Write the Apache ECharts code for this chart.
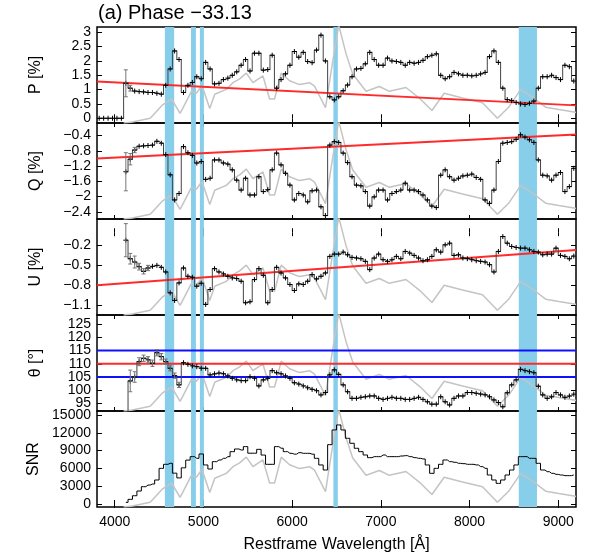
<!DOCTYPE html>
<html>
<head>
<meta charset="utf-8">
<script src="https://cdn.jsdelivr.net/npm/echarts@6/dist/echarts.min.js"></script>
<style>
  html, body { margin: 0; padding: 0; background: #fff; }
  #chart { width: 598px; height: 558px; }
</style>
</head>
<body>
<div id="chart"></div>
<script>
// bin centres (50 A bins) shared by P, Q, U, theta and SNR
const binWave = [
  4125, 4175, 4225, 4275, 4325, 4375, 4425, 4475, 4525, 4575,
  4625, 4675, 4725, 4775, 4825, 4875, 4925, 4975, 5025, 5075,
  5125, 5175, 5225, 5275, 5325, 5375, 5425, 5475, 5525, 5575,
  5625, 5675, 5725, 5775, 5825, 5875, 5925, 5975, 6025, 6075,
  6125, 6175, 6225, 6275, 6325, 6375, 6425, 6475, 6525, 6575,
  6625, 6675, 6725, 6775, 6825, 6875, 6925, 6975, 7025, 7075,
  7125, 7175, 7225, 7275, 7325, 7375, 7425, 7475, 7525, 7575,
  7625, 7675, 7725, 7775, 7825, 7875, 7925, 7975, 8025, 8075,
  8125, 8175, 8225, 8275, 8325, 8375, 8425, 8475, 8525, 8575,
  8625, 8675, 8725, 8775, 8825, 8875, 8925, 8975, 9025, 9075,
  9125, 9175
]

// empty bins below 4100 A, plotted as P = 0
const pZeroWave = [3825, 3875, 3925, 3975, 4025, 4075]
const pZeroValues = [0, 0, 0, 0, 0, 0]

const pValues = [
  1.22, 1.05, 0.95, 0.93, 0.92, 0.90, 0.90, 0.87, 0.84, 1.15,
  1.72, 2.35, 2.05, 0.90, 1.15, 1.25, 1.45, 1.38, 1.95, 1.72,
  1.20, 1.22, 1.35, 1.40, 1.50, 1.62, 1.85, 2.05, 1.65, 2.27,
  2.27, 1.68, 1.70, 2.20, 1.05, 1.35, 1.55, 1.85, 2.33, 2.13,
  2.30, 1.98, 1.94, 2.38, 2.90, 2.00, 0.75, 0.64, 0.75, 0.96,
  1.16, 1.45, 1.72, 1.74, 1.90, 2.30, 2.05, 1.85, 1.85, 2.10,
  2.00, 1.98, 1.95, 1.85, 1.95, 1.92, 1.95, 2.02, 2.15, 2.20,
  2.25, 1.50, 1.38, 1.45, 1.60, 1.55, 1.50, 1.50, 1.48, 1.50,
  1.55, 1.60, 2.15, 2.35, 1.95, 1.05, 0.65, 0.62, 0.55, 0.50,
  0.48, 0.52, 0.60, 1.05, 1.45, 1.45, 1.50, 1.42, 1.35, 1.85,
  1.80, 1.30
]
const pErrors = [
  0.47, 0.10, 0.08, 0.07, 0.07, 0.07, 0.07, 0.07, 0.07, 0.06,
  0.06, 0.06, 0.06, 0.06, 0.06, 0.06, 0.06, 0.06, 0.06, 0.06,
  0.06, 0.06, 0.06, 0.06, 0.06, 0.06, 0.06, 0.06, 0.06, 0.06,
  0.06, 0.06, 0.06, 0.06, 0.06, 0.06, 0.06, 0.06, 0.06, 0.06,
  0.06, 0.06, 0.06, 0.06, 0.07, 0.06, 0.06, 0.06, 0.06, 0.06,
  0.06, 0.06, 0.06, 0.06, 0.06, 0.06, 0.06, 0.06, 0.06, 0.06,
  0.06, 0.06, 0.06, 0.06, 0.06, 0.06, 0.06, 0.06, 0.06, 0.06,
  0.06, 0.06, 0.06, 0.06, 0.06, 0.06, 0.06, 0.06, 0.06, 0.06,
  0.06, 0.06, 0.06, 0.06, 0.06, 0.06, 0.06, 0.06, 0.06, 0.06,
  0.06, 0.06, 0.06, 0.06, 0.06, 0.06, 0.06, 0.06, 0.06, 0.06,
  0.06, 0.06
]

const qValues = [
  -1.35, -1.02, -0.78, -0.68, -0.67, -0.66, -0.65, -0.55, -0.60, -0.90,
  -1.43, -2.09, -1.92, -0.69, -0.85, -0.92, -1.12, -1.08, -1.55, -1.52,
  -1.04, -1.04, -1.12, -1.15, -1.30, -1.57, -1.83, -1.52, -1.96, -1.96,
  -1.48, -1.87, -1.82, -1.30, -0.86, -1.17, -1.39, -1.70, -2.09, -1.92,
  -1.96, -2.14, -1.85, -1.83, -2.27, -2.50, -0.65, -0.56, -0.58, -0.86,
  -1.11, -1.48, -1.70, -1.72, -1.87, -2.25, -2.01, -1.83, -1.83, -2.09,
  -1.92, -1.87, -1.83, -1.65, -1.83, -1.83, -1.87, -1.96, -2.09, -2.25,
  -2.29, -1.44, -1.30, -1.48, -1.57, -1.52, -1.46, -1.44, -1.41, -1.50,
  -1.55, -2.09, -2.18, -1.83, -1.08, -0.60, -0.58, -0.56, -0.50, -0.38,
  -0.44, -0.51, -0.58, -1.04, -1.44, -1.46, -1.57, -1.44, -1.37, -1.87,
  -1.74, -1.26
]
const qErrors = [
  0.50, 0.15, 0.07, 0.05, 0.05, 0.05, 0.05, 0.05, 0.05, 0.05,
  0.05, 0.05, 0.05, 0.05, 0.05, 0.05, 0.05, 0.05, 0.05, 0.05,
  0.05, 0.05, 0.05, 0.05, 0.05, 0.05, 0.05, 0.05, 0.05, 0.05,
  0.05, 0.05, 0.05, 0.05, 0.05, 0.05, 0.05, 0.05, 0.05, 0.05,
  0.05, 0.05, 0.05, 0.05, 0.05, 0.05, 0.05, 0.05, 0.05, 0.05,
  0.05, 0.05, 0.05, 0.05, 0.05, 0.05, 0.05, 0.05, 0.05, 0.05,
  0.05, 0.05, 0.05, 0.05, 0.05, 0.05, 0.05, 0.05, 0.05, 0.05,
  0.05, 0.05, 0.05, 0.05, 0.05, 0.05, 0.05, 0.05, 0.05, 0.05,
  0.05, 0.05, 0.05, 0.05, 0.05, 0.05, 0.05, 0.05, 0.05, 0.05,
  0.05, 0.05, 0.05, 0.05, 0.05, 0.05, 0.05, 0.05, 0.05, 0.05,
  0.05, 0.05
]

const uValues = [
  -0.12, -0.40, -0.45, -0.52, -0.59, -0.54, -0.515, -0.50, -0.53, -0.60,
  -0.915, -1.03, -0.765, -0.54, -0.665, -0.68, -0.815, -0.77, -1.09, -0.865,
  -0.55, -0.60, -0.63, -0.665, -0.69, -0.70, -0.74, -1.065, -1.05, -0.715,
  -0.55, -0.65, -1.065, -0.865, -0.53, -0.615, -0.69, -0.79, -0.88, -0.78,
  -0.79, -0.74, -0.64, -0.705, -0.665, -0.615, -0.365, -0.33, -0.33, -0.30,
  -0.34, -0.38, -0.39, -0.40, -0.44, -0.565, -0.39, -0.33, -0.415, -0.44,
  -0.415, -0.365, -0.40, -0.29, -0.315, -0.35, -0.39, -0.43, -0.415, -0.365,
  -0.265, -0.30, -0.19, -0.165, -0.35, -0.34, -0.39, -0.40, -0.415, -0.43,
  -0.44, -0.45, -0.49, -0.60, -0.29, -0.065, -0.165, -0.215, -0.23, -0.24,
  -0.24, -0.265, -0.29, -0.30, -0.34, -0.33, -0.33, -0.24, -0.35, -0.365,
  -0.40, -0.36
]
const uErrors = [
  0.25, 0.08, 0.09, 0.05, 0.04, 0.04, 0.03, 0.03, 0.03, 0.03,
  0.03, 0.03, 0.03, 0.03, 0.03, 0.03, 0.03, 0.03, 0.03, 0.03,
  0.03, 0.03, 0.03, 0.03, 0.03, 0.03, 0.03, 0.03, 0.03, 0.03,
  0.03, 0.03, 0.03, 0.03, 0.03, 0.03, 0.03, 0.03, 0.03, 0.03,
  0.03, 0.03, 0.03, 0.03, 0.03, 0.03, 0.03, 0.03, 0.03, 0.03,
  0.03, 0.03, 0.03, 0.03, 0.03, 0.03, 0.03, 0.03, 0.03, 0.03,
  0.03, 0.03, 0.03, 0.03, 0.03, 0.03, 0.03, 0.03, 0.03, 0.03,
  0.03, 0.03, 0.03, 0.03, 0.03, 0.03, 0.03, 0.03, 0.03, 0.03,
  0.03, 0.03, 0.03, 0.03, 0.03, 0.03, 0.03, 0.03, 0.03, 0.03,
  0.03, 0.03, 0.03, 0.03, 0.03, 0.03, 0.03, 0.03, 0.03, 0.03,
  0.03, 0.03
]

const thetaValues = [
  88.0, 103.5, 105.0, 110.8, 112.1, 111.5, 110.2, 114.2, 112.7, 110.8,
  108.3, 105.5, 102.0, 110.4, 109.8, 109.2, 108.9, 108.3, 108.3, 105.8,
  106.2, 106.5, 106.2, 105.4, 104.5, 103.9, 103.6, 103.6, 105.1, 104.5,
  101.6, 103.9, 104.5, 107.4, 106.6, 106.2, 105.4, 104.5, 102.8, 102.3,
  101.6, 100.9, 100.3, 99.8, 98.2, 99.1, 105.8, 107.7, 106.0, 102.0,
  99.4, 96.9, 96.9, 97.3, 97.5, 97.8, 97.8, 96.9, 96.5, 96.9,
  97.3, 96.9, 96.9, 96.5, 96.5, 96.9, 97.3, 96.5, 95.6, 94.7,
  94.7, 97.5, 95.6, 94.4, 96.9, 97.8, 97.8, 99.1, 99.1, 98.8,
  98.5, 98.2, 97.5, 96.3, 95.3, 93.7, 99.0, 102.0, 103.9, 107.9,
  107.4, 107.0, 106.6, 101.5, 98.2, 96.9, 97.5, 99.1, 98.2, 97.3,
  97.8, 98.5
]
const thetaErrors = [
  0.0, 4.1, 2.0, 1.5, 1.2, 1.2, 1.2, 1.2, 1.2, 1.0,
  1.0, 1.0, 1.0, 0.9, 0.9, 0.9, 0.9, 0.9, 0.9, 0.9,
  0.9, 0.9, 0.9, 0.9, 0.9, 0.9, 0.9, 0.9, 0.9, 0.9,
  0.9, 0.9, 0.9, 0.9, 0.9, 0.9, 0.9, 0.9, 0.9, 0.9,
  0.9, 0.9, 0.9, 0.9, 0.9, 0.9, 0.9, 0.9, 0.9, 0.9,
  0.9, 0.9, 0.9, 0.9, 0.9, 0.9, 0.9, 0.9, 0.9, 0.9,
  0.9, 0.9, 0.9, 0.9, 0.9, 0.9, 0.9, 0.9, 0.9, 0.9,
  0.9, 0.9, 0.9, 0.9, 0.9, 0.9, 0.9, 0.9, 0.9, 0.9,
  0.9, 0.9, 0.9, 0.9, 0.9, 0.9, 0.9, 0.9, 0.9, 0.9,
  0.9, 0.9, 0.9, 0.9, 0.9, 0.9, 0.9, 0.9, 0.9, 0.9,
  0.9, 0.9
]

const snrValues = [
  280, 790, 1400, 2190, 2920, 3200, 3370, 4050, 6010, 6690,
  6860, 5200, 4400, 6100, 7400, 7980, 7700, 8430, 6580, 5900,
  7140, 7420, 7700, 7980, 8820, 9270, 9100, 9670, 8560, 8560,
  9210, 8250, 6690, 6690, 9670, 9400, 8820, 8540, 8400, 8650,
  8540, 8540, 8400, 7700, 6580, 5730, 10000, 12480, 13320, 12480,
  11070, 10230, 9390, 8820, 8260, 7810, 7980, 7980, 8260, 7980,
  7980, 7980, 8090, 8150, 7980, 7810, 7700, 7590, 6580, 5170,
  6010, 6690, 7420, 7140, 7030, 6860, 6800, 6690, 6690, 6580,
  6300, 6010, 4890, 4050, 3480, 4050, 4890, 5730, 6580, 7980,
  7980, 7700, 7700, 6860, 5730, 5450, 5170, 5000, 4890, 4780,
  4780, 4890
]

// flux spectrum (grey), as a fraction of each panel height
const fluxWave = [
  4100, 4200, 4400, 4540, 4640, 4737, 4865, 4920, 4984, 5071,
  5127, 5258, 5333, 5408, 5483, 5558, 5671, 5746, 5802, 5877,
  5971, 6083, 6196, 6252, 6376, 6440, 6525, 6608, 6683, 6833,
  6983, 7096, 7283, 7433, 7576, 7714, 7921, 8146, 8314, 8446,
  8577, 8746, 8858, 9008, 9177, 9200
]
const fluxValues = [
  0.00, 0.01, 0.05, 0.19, 0.25, 0.10, 0.33, 0.31, 0.39, 0.15,
  0.30, 0.35, 0.42, 0.46, 0.52, 0.42, 0.49, 0.25, 0.25, 0.52,
  0.44, 0.40, 0.42, 0.385, 0.16, 0.54, 1.02, 0.72, 0.51, 0.33,
  0.38, 0.33, 0.37, 0.26, 0.13, 0.31, 0.26, 0.21, 0.05, 0.17,
  0.35, 0.245, 0.165, 0.14, 0.115, 0.11
]

// straight-line ISP fits (red) and theta reference lines
const fitWave = [3800, 9200]
const pFit = [1.28, 0.45]
const qFit = [-1.00, -0.37]
const uFit = [-0.80, -0.27]
const thetaRed = [110, 110]
const thetaBlueHigh = [115, 115]
const thetaBlueLow = [105, 105]

// shaded line regions
const bands = [[4565, 4670], [4860, 4915], [4960, 5005], [6465, 6515], [8555, 8760]]

// tick labels
const xTicks = [4000, 5000, 6000, 7000, 8000, 9000]
const pTicks = [0, 0.5, 1, 1.5, 2, 2.5, 3]
const qTicks = [-2.4, -2, -1.6, -1.2, -0.8, -0.4]
const uTicks = [-1.1, -0.8, -0.5, -0.2]
const thetaTicks = [95, 100, 105, 110, 115, 120, 125]
const snrTicks = [0, 3000, 6000, 9000, 12000, 15000]

const zip = (xs, ys, es) => xs.map((x, i) => (es ? [x, ys[i], es[i]] : [x, ys[i]]))
const minus = v => String(v).replace('-', '\u2212')

const FONT = 'Liberation Sans, Arial, Helvetica, sans-serif'
const gridTops = [27, 123, 219, 315, 411]
const gridHeight = 96

const panels = [
  { name: 'P [%]', min: -0.165, max: 3.185, ticks: pTicks,
    wave: pZeroWave.concat(binWave), values: pZeroValues.concat(pValues),
    errors: pZeroValues.concat(pErrors), fits: [[pFit, '#ff2a2a']] },
  { name: 'Q [%]', min: -2.59, max: -0.07, ticks: qTicks,
    wave: binWave, values: qValues, errors: qErrors, fits: [[qFit, '#ff2a2a']] },
  { name: 'U [%]', min: -1.25, max: 0.2, ticks: uTicks,
    wave: binWave, values: uValues, errors: uErrors, fits: [[uFit, '#ff2a2a']] },
  { name: '\u03b8 [\u00b0]', min: 92.1, max: 128.5, ticks: thetaTicks,
    wave: binWave, values: thetaValues, errors: thetaErrors,
    fits: [[thetaBlueHigh, '#1010ff'], [thetaBlueLow, '#1010ff'], [thetaRed, '#ff2a2a']] },
  { name: 'SNR', min: -500, max: 15670, ticks: snrTicks,
    wave: binWave, values: snrValues, errors: null, fits: [] }
]

// "+" marker with vertical error bar
function crossItem(params, api) {
  const x = api.value(0)
  const v = api.value(1)
  const e = api.value(2)
  const c = api.coord([x, v])
  const hi = api.coord([x, v + e])
  const lo = api.coord([x, v - e])
  const arm = 2.5
  const black = { stroke: '#000', lineWidth: 1 }
  const grey = { stroke: '#777', lineWidth: 1 }
  const kids = [
    { type: 'line', shape: { x1: c[0] - arm, y1: c[1], x2: c[0] + arm, y2: c[1] }, style: black },
    { type: 'line', shape: { x1: c[0], y1: c[1] - arm, x2: c[0], y2: c[1] + arm }, style: black }
  ]
  if (hi[1] < c[1] - arm) {
    kids.push(
      { type: 'line', shape: { x1: c[0], y1: hi[1], x2: c[0], y2: lo[1] }, style: grey },
      { type: 'line', shape: { x1: c[0] - 2, y1: hi[1], x2: c[0] + 2, y2: hi[1] }, style: grey },
      { type: 'line', shape: { x1: c[0] - 2, y1: lo[1], x2: c[0] + 2, y2: lo[1] }, style: grey }
    )
  }
  return { type: 'group', children: kids }
}

const grid = []
const xAxis = []
const yAxis = []
const series = []

panels.forEach((p, i) => {
  const last = i === panels.length - 1
  grid.push({ left: 97, width: 479, top: gridTops[i], height: gridHeight,
    show: true, borderColor: '#000', borderWidth: 1.5 })

  const tickX = { show: true, inside: true, length: 4, customValues: xTicks, lineStyle: { color: '#000', width: 1 } }
  xAxis.push({
    gridIndex: i, type: 'value', min: 3800, max: 9200,
    axisLine: { show: false }, splitLine: { show: false }, axisTick: tickX,
    axisLabel: { show: last, customValues: xTicks, formatter: v => String(v), interval: 0,
      color: '#000', fontSize: 14, fontFamily: FONT, margin: 8 },
    name: last ? 'Restframe Wavelength [\u00c5]' : '',
    nameLocation: 'middle', nameGap: 30,
    nameTextStyle: { color: '#000', fontSize: 16, fontFamily: FONT }
  })
  xAxis.push({
    gridIndex: i, type: 'value', min: 3800, max: 9200, position: 'top',
    axisLine: { show: false }, splitLine: { show: false }, axisTick: tickX, axisLabel: { show: false }
  })

  // labels split over two coincident left axes so none gets dropped for crowding
  const evenTicks = p.ticks.filter((t, k) => k % 2 === 0)
  const oddTicks = p.ticks.filter((t, k) => k % 2 === 1)
  const labelStyle = { formatter: minus, interval: 0, showMinLabel: true, showMaxLabel: true,
    color: '#000', fontSize: 14, fontFamily: FONT, margin: 6 }
  const tickY = { show: true, inside: true, length: 5, customValues: p.ticks, lineStyle: { color: '#000', width: 1 } }
  yAxis.push({
    gridIndex: i, type: 'value', min: p.min, max: p.max,
    axisLine: { show: false }, splitLine: { show: false }, axisTick: tickY,
    axisLabel: Object.assign({ customValues: evenTicks }, labelStyle),
    name: p.name, nameLocation: 'middle', nameRotate: 90, nameGap: 53,
    nameTextStyle: { color: '#000', fontSize: 16, fontFamily: FONT }
  })
  yAxis.push({
    gridIndex: i, type: 'value', min: p.min, max: p.max, position: 'left', offset: 0,
    axisLine: { show: false }, splitLine: { show: false }, axisTick: { show: false },
    axisLabel: Object.assign({ customValues: oddTicks }, labelStyle)
  })
  yAxis.push({
    gridIndex: i, type: 'value', min: p.min, max: p.max, position: 'right',
    axisLine: { show: false }, splitLine: { show: false }, axisTick: tickY, axisLabel: { show: false }
  })
  yAxis.push({ gridIndex: i, type: 'value', min: 0, max: 1, show: false })

  const xb = 2 * i
  const yl = 4 * i

  // shaded bands
  series.push({
    type: 'line', xAxisIndex: xb, yAxisIndex: yl, data: [], silent: true, z: 1,
    markArea: {
      silent: true, itemStyle: { color: '#87ceeb', opacity: 1 },
      data: bands.map(b => [{ xAxis: b[0] }, { xAxis: b[1] }])
    }
  })
  // flux spectrum
  series.push({
    type: 'line', xAxisIndex: xb, yAxisIndex: yl + 3, data: zip(fluxWave, fluxValues),
    showSymbol: false, silent: true, z: 2, clip: true,
    lineStyle: { color: '#c4c4c4', width: 1.5 }
  })
  // fits / reference lines
  p.fits.forEach(([vals, color]) => {
    series.push({
      type: 'line', xAxisIndex: xb, yAxisIndex: yl, data: zip(fitWave, vals),
      showSymbol: false, silent: true, z: 3, clip: true,
      lineStyle: { color, width: 2 }
    })
  })
  // binned data as steps
  series.push({
    type: 'line', step: 'middle', xAxisIndex: xb, yAxisIndex: yl, data: zip(p.wave, p.values),
    showSymbol: false, silent: true, z: 4, clip: true,
    lineStyle: { color: last ? '#000' : '#444', width: 1 }
  })
  if (p.errors) {
    series.push({
      type: 'custom', xAxisIndex: xb, yAxisIndex: yl, data: zip(p.wave, p.values, p.errors),
      renderItem: crossItem, encode: { x: 0, y: 1 }, silent: true, z: 5, clip: true
    })
  }
})

const chart = echarts.init(document.getElementById('chart'), null, { renderer: 'canvas' })
chart.setOption({
  animation: false,
  backgroundColor: '#fff',
  textStyle: { fontFamily: FONT },
  title: {
    text: '(a) Phase \u221233.13', left: 93, top: -2,
    textStyle: { color: '#000', fontSize: 20, fontWeight: 'normal', fontFamily: FONT }
  },
  grid, xAxis, yAxis, series
})
</script>
</body>
</html>
